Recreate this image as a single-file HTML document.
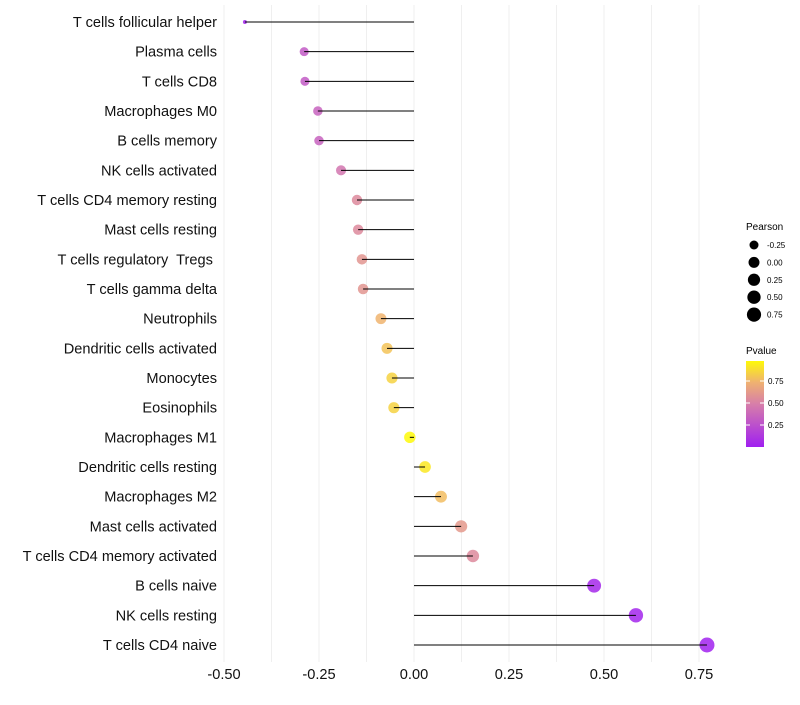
<!DOCTYPE html>
<html><head><meta charset="utf-8"><style>
body{margin:0;background:#fff;font-family:"Liberation Sans",sans-serif}
</style></head><body>
<svg id="c" width="800" height="700" xmlns="http://www.w3.org/2000/svg"></svg>
<script>
const categories=["T cells follicular helper","Plasma cells","T cells CD8","Macrophages M0","B cells memory","NK cells activated","T cells CD4 memory resting","Mast cells resting","T cells regulatory  Tregs ","T cells gamma delta","Neutrophils","Dendritic cells activated","Monocytes","Eosinophils","Macrophages M1","Dendritic cells resting","Macrophages M2","Mast cells activated","T cells CD4 memory activated","B cells naive","NK cells resting","T cells CD4 naive"];
const pearson=[-0.445,-0.289,-0.287,-0.253,-0.25,-0.192,-0.15,-0.147,-0.137,-0.134,-0.087,-0.071,-0.058,-0.053,-0.011,0.029,0.071,0.124,0.155,0.474,0.584,0.771];
const pvalues=[0.02,0.3,0.3,0.35,0.35,0.45,0.55,0.55,0.6,0.6,0.75,0.8,0.85,0.85,0.98,0.92,0.78,0.62,0.55,0.04,0.03,0.01];
const xTicks=[-0.5,-0.25,0,0.25,0.5,0.75];
const xTickLabels=["-0.50","-0.25","0.00","0.25","0.50","0.75"];
const sizeLegend=[-0.25,0,0.25,0.5,0.75];
const sizeLegendLabels=["-0.25","0.00","0.25","0.50","0.75"];
const colorTicks=[0.25,0.5,0.75];
const NS="http://www.w3.org/2000/svg";
const svg=document.getElementById('c');
const X=v=>414+v*380;
const Y=i=>22+i*(623/21);
const R=v=>2+5.5*Math.pow(Math.max(0,(v+0.445)/1.216),0.38);
function col(p){
 const s=[[0,[160,32,240]],[0.5,[216,128,168]],[0.75,[240,180,110]],[1,[255,255,0]]];
 for(let k=1;k<s.length;k++){if(p<=s[k][0]){const a=s[k-1],b=s[k],t=(p-a[0])/(b[0]-a[0]);return 'rgb('+a[1].map((c,j)=>Math.round(c+(b[1][j]-c)*t)).join(',')+')';}}
 return 'rgb(255,255,0)';
}
function el(t,a,p){const e=document.createElementNS(NS,t);for(const k in a)e.setAttribute(k,a[k]);(p||svg).appendChild(e);return e;}
for(let v=-0.5;v<=0.75001;v+=0.125){
 const g=el('line',{x1:X(v),x2:X(v),y1:5,y2:662,stroke:'#efefef','stroke-width':1});
 
 
}
categories.forEach((c,i)=>{
 const y=Y(i);
 const t=el('text',{x:217,y:y+5,'text-anchor':'end','font-size':14.6,fill:'#111'});t.textContent=c;
 t.style.whiteSpace='pre';
 
 
 const ci=el('circle',{cx:X(pearson[i]),cy:y,r:R(pearson[i]),fill:col(pvalues[i]),'fill-opacity':0.85});
 
 
 const l=el('line',{x1:X(0),x2:X(pearson[i]),y1:y,y2:y,stroke:'#000','stroke-width':1});
 
 
});
xTicks.forEach((v,i)=>{
 const t=el('text',{x:X(v),y:679,'text-anchor':'middle','font-size':14.6,fill:'#111'});t.textContent=xTickLabels[i];
 
 
});
const lt=el('text',{x:746,y:230,'font-size':10,fill:'#000'});lt.textContent='Pearson';


sizeLegend.forEach((v,i)=>{
 const y=245+i*17.4;
 const c=el('circle',{cx:754,cy:y,r:R(v)*0.95,fill:'#000'});
 
 
 const t=el('text',{x:767,y:y+3,'font-size':8,fill:'#000'});t.textContent=sizeLegendLabels[i];
 
 
});
const ct=el('text',{x:746,y:354,'font-size':10,fill:'#000'});ct.textContent='Pvalue';


const defs=el('defs',{});
const gr=el('linearGradient',{id:'pg',x1:0,y1:1,x2:0,y2:0},defs);
[0,0.25,0.5,0.75,1].forEach(o=>el('stop',{offset:o,'stop-color':col(o*0.98)},gr));
const cb=el('rect',{x:746,y:361,width:18,height:86,fill:'url(#pg)'});


const CY=p=>447-p*88;
colorTicks.forEach(p=>{
 el('line',{x1:746,x2:750,y1:CY(p),y2:CY(p),stroke:'#fff'});
 el('line',{x1:760,x2:764,y1:CY(p),y2:CY(p),stroke:'#fff'});
 const t=el('text',{x:768,y:CY(p)+3,'font-size':8,fill:'#000'});t.textContent=p.toFixed(2);
 
 
});
</script>
</body></html>
